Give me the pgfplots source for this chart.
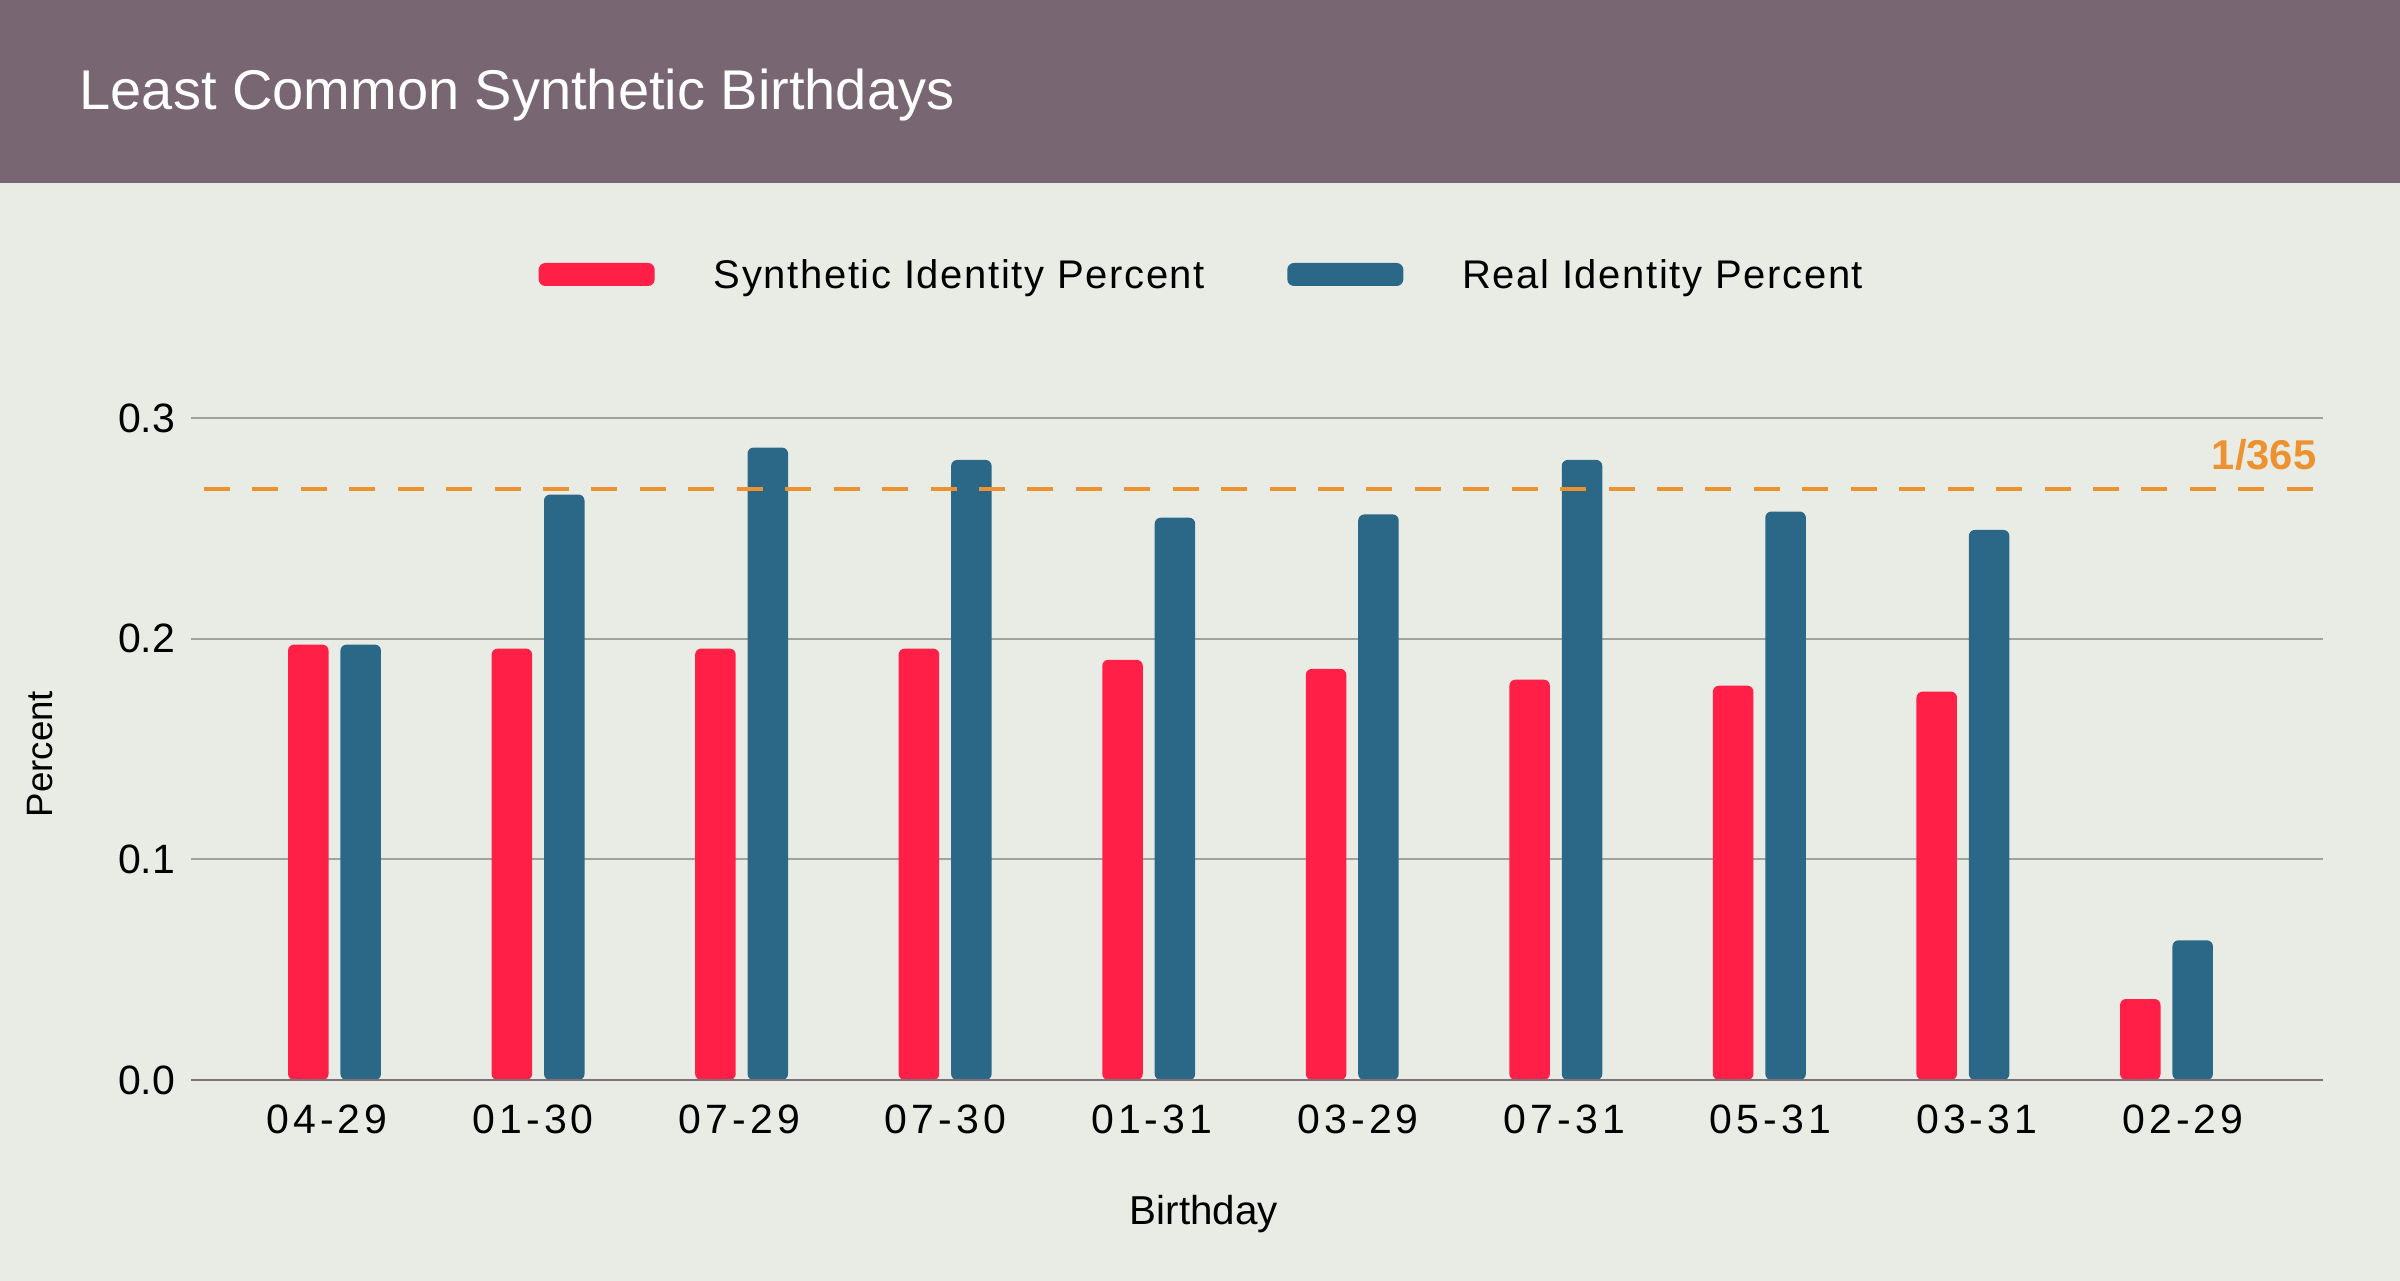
\documentclass[border=0pt]{standalone}
\usepackage{fontspec}
\setmainfont{Liberation Sans}
\newfontfamily\tickfont[LetterSpace=10]{Liberation Sans}
\newfontfamily\legfont[LetterSpace=4.1]{Liberation Sans}
\usepackage{pgfplots}
\pgfplotsset{compat=1.18}
\definecolor{bgcol}{HTML}{E9ECE5}
\definecolor{headcol}{HTML}{786672}
\definecolor{synred}{HTML}{FF1F47}
\definecolor{realblue}{HTML}{2B6887}
\definecolor{refor}{HTML}{EE9230}
\definecolor{gridcol}{HTML}{A0A39C}
\definecolor{axiscol}{HTML}{7E7079}
\begin{document}
\begin{tikzpicture}
\fill[bgcol] (0pt,0pt) rectangle (720pt,-384.3pt);
\fill[headcol] (0pt,0pt) rectangle (720pt,-54.9pt);
\node[anchor=base west, inner sep=0pt, text=white, font=\fontsize{16.8}{19}\selectfont] at (23.7pt,-33pt) {Least Common Synthetic Birthdays};
\begin{axis}[
  at={(57.3pt,-324pt)}, anchor=south west,
  scale only axis, width=639.6pt, height=198.6pt,
  xmin=-0.705, xmax=9.769, ymin=0, ymax=0.3,
  ybar, bar width=12.15pt,
  xtick={-0.037,0.976,1.989,3.002,4.015,5.029,6.042,7.055,8.068,9.081},
  xticklabels={04-29,01-30,07-29,07-30,01-31,03-29,07-31,05-31,03-31,02-29},
  ytick={0,0.1,0.2,0.3},
  yticklabel style={/pgf/number format/fixed, /pgf/number format/fixed zerofill, /pgf/number format/precision=1, /pgf/number format/assume math mode=true},
  yticklabel style={anchor=east, inner sep=0pt, xshift=-4.6pt, font=\fontsize{12.3}{14}\selectfont},
  xticklabel style={anchor=base, inner sep=0pt, yshift=-15.9pt, font=\tickfont\fontsize{12.3}{14}\selectfont},
  major tick length=0pt,
  axis x line*=bottom, axis y line*=left,
  x axis line style={draw=none},
  y axis line style={draw=none},
  ymajorgrids, major grid style={draw=gridcol, line width=0.65pt},
  xlabel={Birthday},
  xlabel style={at={(axis description cs:0.4751,0)}, anchor=base, yshift=-43.2pt, inner sep=0pt, font=\fontsize{12.1}{14}\selectfont},
  ylabel={Percent},
  ylabel style={at={(axis description cs:-0.071,0.4924)}, anchor=center, inner sep=0pt, font=\fontsize{11}{13}\selectfont},
  legend style={at={(0.16276,1.2168)}, anchor=west, draw=none, fill=none,
    inner sep=0pt, column sep=0pt,
    nodes={inner sep=0pt, text depth=0pt},
    font=\legfont\fontsize{12}{14}\selectfont,
    /tikz/every even column/.append style={column sep=24.7pt}},
  legend columns=2, legend cell align=left,
  clip=false,
]
\addplot[fill=synred, draw=none, bar shift=-7.86pt, rounded corners=1.8pt,
  legend image code/.code={\fill[synred, draw=none, rounded corners=2pt] (0pt,-3.45pt) rectangle (34.8pt,3.45pt); \fill[draw=none, fill opacity=0] (52.5pt,0pt) rectangle (52.5pt,0pt);}]
  coordinates {(0,0.1973) (1,0.1955) (2,0.1955) (3,0.1955) (4,0.1904) (5,0.1863) (6,0.1814) (7,0.1787) (8,0.1760) (9,0.0367)};
\addlegendentry{Synthetic Identity Percent}
\addplot[fill=realblue, draw=none, bar shift=7.86pt, rounded corners=1.8pt,
  legend image code/.code={\fill[realblue, draw=none, rounded corners=2pt] (0pt,-3.45pt) rectangle (34.8pt,3.45pt); \fill[draw=none, fill opacity=0] (52.5pt,0pt) rectangle (52.5pt,0pt);}]
  coordinates {(0,0.1973) (1,0.2653) (2,0.2866) (3,0.2810) (4,0.2548) (5,0.2563) (6,0.2810) (7,0.2576) (8,0.2493) (9,0.0633)};
\addlegendentry{Real Identity Percent}
\addplot[sharp plot, draw=refor, line width=1.2pt, dash pattern=on 7.8pt off 6.73pt, forget plot, bar shift=0pt]
  coordinates {(-0.641,0.2677) (9.719,0.2677)};
\node[anchor=base east, inner sep=0pt, text=refor, font=\bfseries\fontsize{12.5}{14}\selectfont] at (axis cs:9.739,0.2765) {1/365};
\draw[axiscol, line width=0.7pt] (rel axis cs:0,0) -- (rel axis cs:1,0);
\end{axis}
\end{tikzpicture}
\end{document}
